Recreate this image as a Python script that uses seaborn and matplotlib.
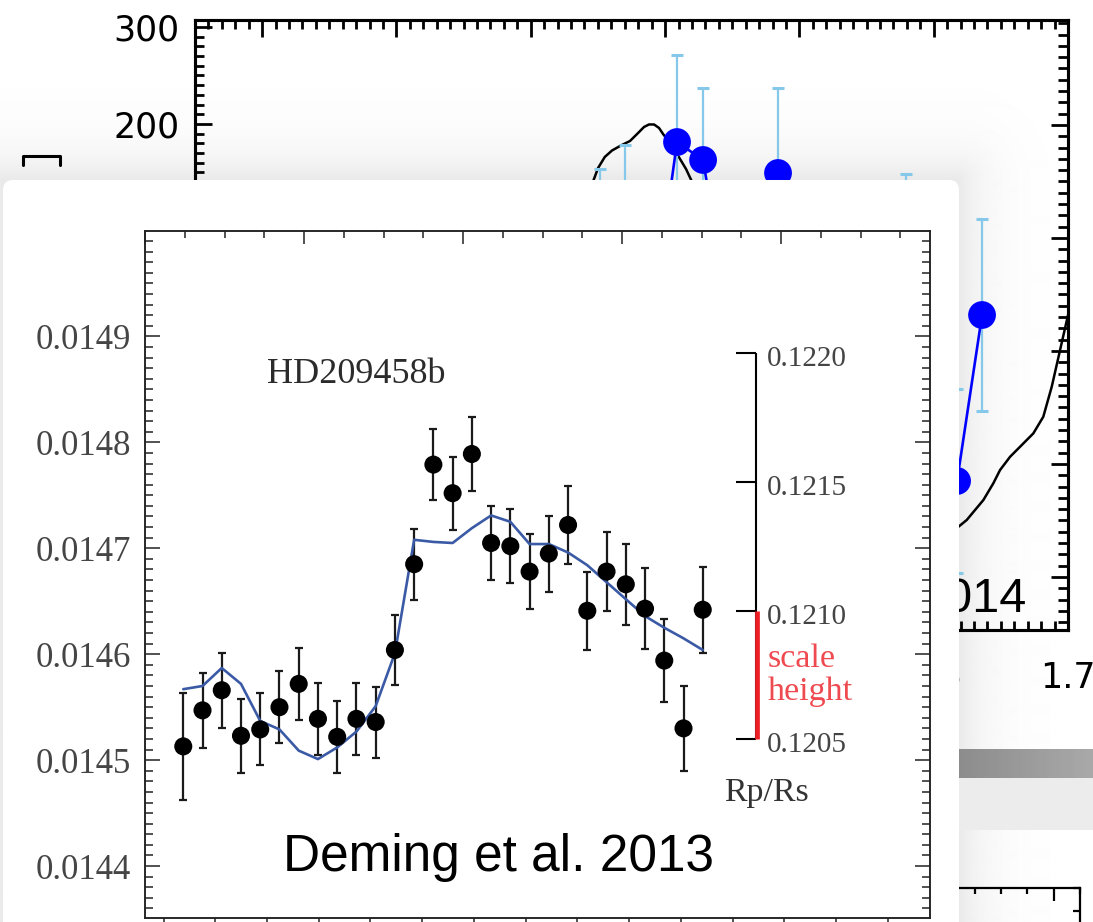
import numpy as np
import matplotlib
matplotlib.use("Agg")
import matplotlib.pyplot as plt
import seaborn as sns
from matplotlib.ticker import MultipleLocator, FixedLocator, FormatStrFormatter, FuncFormatter
from matplotlib.patches import FancyBboxPatch, Rectangle
from matplotlib import transforms

# ---------------- HD209458b WFC3 transit spectrum (Deming et al. 2013) ----------------
wavelength_um = [1.1190, 1.1376, 1.1562, 1.1748, 1.1934, 1.2120, 1.2306, 1.2492,
                 1.2678, 1.2864, 1.3050, 1.3236, 1.3422, 1.3608, 1.3794, 1.3980,
                 1.4166, 1.4352, 1.4538, 1.4724, 1.4910, 1.5096, 1.5282, 1.5468,
                 1.5654, 1.5840, 1.6026, 1.6212]
transit_depth = [0.014513, 0.014547, 0.014566, 0.014523, 0.014529, 0.014550, 0.014572,
                 0.014539, 0.014522, 0.014539, 0.014536, 0.014604, 0.014685, 0.014779,
                 0.014752, 0.014789, 0.014705, 0.014702, 0.014678, 0.014695, 0.014722,
                 0.014641, 0.014678, 0.014666, 0.014643, 0.014594, 0.014530, 0.014642]
depth_error_ppm = [50.7, 35.6, 35.2, 34.7, 34.0, 33.7, 33.7, 33.7, 33.8, 33.8, 33.5,
                   33.3, 33.5, 33.8, 34.3, 34.5, 34.5, 34.9, 35.2, 35.9, 36.4, 36.6,
                   37.0, 38.0, 38.4, 39.2, 39.9, 40.4]
model_depth = [0.014567, 0.014570, 0.014587, 0.014572, 0.014537, 0.014529, 0.014509,
               0.014501, 0.014512, 0.014527, 0.014551, 0.014601, 0.014708, 0.014706,
               0.014705, 0.014719, 0.014731, 0.014725, 0.014704, 0.014704, 0.014696,
               0.014684, 0.014668, 0.014652, 0.014636, 0.014625, 0.014615, 0.014604]
depth_ticks = [0.0144, 0.0145, 0.0146, 0.0147, 0.0148, 0.0149]
rprs_ticks = [0.1220, 0.1215, 0.1210, 0.1205]
scale_height_rprs = [0.1205, 0.1210]

# ---------------- background spectrum panel ----------------
bg_wave = [1.3516, 1.3702, 1.3895, 1.4089, 1.4283, 1.4469, 1.4841, 1.5794, 1.6174, 1.6360]
bg_value = [61.9, 86.6, -11.3, 181.4, 162.9, 8.2, 149.5, 56.7, -168.0, 3.1]
bg_error = [92.0, 92.0, 90.0, 89.7, 74.2, 90.0, 87.6, 92.0, 95.0, 98.5]
bg_model_wave = [1.3218, 1.3329, 1.3461, 1.3501, 1.3551, 1.3605, 1.3679, 1.3739, 1.3799,
                 1.3843, 1.3880, 1.3918, 1.3955, 1.3985, 1.4037, 1.4101, 1.4156, 1.4203,
                 1.4298, 1.4409, 1.5005, 1.5601, 1.5973, 1.6080, 1.6184, 1.6246, 1.6370,
                 1.6444, 1.6494, 1.6569, 1.6643, 1.6742, 1.6816, 1.6879, 1.6941, 1.7003]
bg_model_value = [-12.4, 70.1, 139.7, 154.6, 166.0, 172.7, 178.4, 182.5, 190.7, 196.9,
                  199.5, 199.5, 195.9, 189.7, 180.4, 166.3, 153.6, 139.7, 90.7, 18.6,
                  -105.0, -208.0, -229.0, -225.0, -215.2, -208.2, -187.6, -170.4,
                  -156.7, -143.0, -132.7, -118.9, -101.8, -70.8, -33.0, 4.8]
bg_left_ticks = [300, 200, 100, 0, -100, -200, -300]
bg_left_labelled = [300, 200]
bg_x_labelled = [1.6, 1.7]

W, H, DPI = 1093, 922, 100
sns.set_theme(style="white")
plt.rcParams['font.family'] = ['Liberation Serif', 'DejaVu Sans']
fig = plt.figure(figsize=(W / DPI, H / DPI), dpi=DPI)
fig.patch.set_facecolor('white')


def box(x0, y0, x1, y1):
    """Pixel box (top-left origin) -> figure fraction rect."""
    return [x0 / W, 1 - y1 / H, (x1 - x0) / W, (y1 - y0) / H]


# ---- page layer: soft shadow around the white card, scanned strips ----
ax_bg = fig.add_axes([0, 0, 1, 1], zorder=-3)
ax_bg.set_xlim(0, W)
ax_bg.set_ylim(H, 0)
ax_bg.axis('off')
card_l, card_t, card_r = 3, 180, 959
yy, xx = np.mgrid[0:H, 0:W] + 0.5
dx = np.maximum(np.maximum(card_l - xx, xx - card_r), 0)
dy = np.maximum(card_t - yy, 0)
dist = np.hypot(dx, dy)
shade = 1 - 0.085 * np.exp(-dist / 30.0)
ax_bg.imshow(shade, cmap='gray', vmin=0, vmax=1, extent=(0, W, H, 0),
             aspect='auto', interpolation='bilinear')
ax_bg.imshow(np.linspace(0.55, 0.66, 40)[None, :], cmap='gray', vmin=0, vmax=1,
             extent=(958, W, 778, 750), aspect='auto')
ax_bg.add_patch(Rectangle((958, 778), W - 958, 52, color='#ececec', lw=0))
ax_bg.plot([23, 23, 60, 60], [165, 156, 156, 165], color='black', lw=2.2)

# ---- background spectrum panel ----
ax_top = fig.add_axes(box(195, 20, 1068, 630), zorder=-2)
ax_top.set_facecolor('none')
sns.lineplot(x=bg_model_wave, y=bg_model_value, ax=ax_top, color='black', lw=1.8)
ax_top.errorbar(bg_wave, bg_value, yerr=bg_error, fmt='none', ecolor='#86c8ea',
                elinewidth=1.6, capsize=4, capthick=2.2, zorder=2)
sns.lineplot(x=bg_wave, y=bg_value, ax=ax_top, color='#0000ff', lw=1.9, zorder=3)
sns.scatterplot(x=bg_wave, y=bg_value, ax=ax_top, s=20 ** 2, color='#0000ff',
                edgecolor='none', zorder=4)
ax_top.set_xlim(1.05, 1.70)
ax_top.set_ylim(-321.6, 307.2)
ax_top.xaxis.set_major_locator(MultipleLocator(0.1))
ax_top.xaxis.set_minor_locator(MultipleLocator(0.01))
ax_top.xaxis.set_major_formatter(FuncFormatter(
    lambda v, pos: f"{v:.1f}" if any(abs(v - t) < 1e-6 for t in bg_x_labelled) else ""))
ax_top.yaxis.set_major_locator(FixedLocator(bg_left_ticks))
ax_top.yaxis.set_minor_locator(MultipleLocator(10))
ax_top.yaxis.set_major_formatter(FuncFormatter(
    lambda v, pos: f"{v:.0f}" if any(abs(v - t) < 1e-6 for t in bg_left_labelled) else ""))
ax_top.tick_params(axis='both', which='both', direction='in', top=True, bottom=True,
                   left=True, right=False, colors='black', width=2)
ax_top.tick_params(axis='both', which='major', length=12)
ax_top.tick_params(axis='both', which='minor', length=6.5)
ax_top.tick_params(axis='x', labelsize=25, pad=22)
ax_top.tick_params(axis='y', labelsize=25, pad=11)
for lab in ax_top.get_xticklabels() + ax_top.get_yticklabels():
    lab.set_family('DejaVu Sans')
for sp in ax_top.spines.values():
    sp.set_linewidth(2.2)
    sp.set_color('black')
ax_top.set_xlabel('')
ax_top.set_ylabel('')
ax_top.text(1.6695, -303.1, '2014', ha='right', va='baseline', fontsize=35,
            family='Liberation Sans', color='black')

ax_r = ax_top.twinx()
ax_r.set_zorder(-2)
ax_r.set_ylim(-0.469, 4.929)
ax_r.yaxis.set_major_locator(MultipleLocator(1))
ax_r.yaxis.set_minor_locator(MultipleLocator(0.1))
ax_r.tick_params(axis='y', which='both', direction='in', right=True, left=False,
                 labelright=False, width=2, colors='black')
ax_r.tick_params(axis='y', which='major', length=12)
ax_r.tick_params(axis='y', which='minor', length=7)
for sp in ax_r.spines.values():
    sp.set_linewidth(2.2)
    sp.set_color('black')

# ---- corner of a lower panel ----
ax_c = fig.add_axes(box(820, 888, 1080, 1000), zorder=-2)
ax_c.set_facecolor('none')
ax_c.set_xlim(1.1, 11.0)
ax_c.set_ylim(4.87, 0)
ax_c.xaxis.set_major_locator(MultipleLocator(5))
ax_c.xaxis.set_minor_locator(MultipleLocator(1))
ax_c.yaxis.set_major_locator(MultipleLocator(1))
ax_c.tick_params(axis='x', which='both', direction='in', top=True, bottom=False,
                 labelbottom=False, width=1.6, colors='black')
ax_c.tick_params(axis='x', which='major', length=9)
ax_c.tick_params(axis='x', which='minor', length=4)
ax_c.tick_params(axis='y', direction='in', right=True, left=False, labelleft=False,
                 length=5, width=1.6, colors='black')
for side, sp in ax_c.spines.items():
    sp.set_linewidth(1.6)
    sp.set_color('black')
    sp.set_visible(side in ('top', 'right'))

# ---- white card carrying the Deming et al. panel ----
ax_card = fig.add_axes([0, 0, 1, 1], zorder=-1)
ax_card.set_xlim(0, W)
ax_card.set_ylim(H, 0)
ax_card.axis('off')
ax_card.add_patch(FancyBboxPatch((card_l, card_t), card_r - card_l, 900,
                                 boxstyle='round,pad=0,rounding_size=10',
                                 fc='white', ec='none'))

# ---- main panel ----
ax = fig.add_axes(box(145, 231, 930, 918), zorder=0)
ax.set_facecolor('white')
err = [e * 1e-6 for e in depth_error_ppm]
ax.errorbar(wavelength_um, transit_depth, yerr=err, fmt='none', ecolor='#1a1a1a',
            elinewidth=1.6, capsize=2.6, capthick=1.6, zorder=2)
sns.lineplot(x=wavelength_um, y=model_depth, ax=ax, color='#3b5aa6', lw=1.9, zorder=3)
sns.scatterplot(x=wavelength_um, y=transit_depth, ax=ax, s=13 ** 2, color='black',
                edgecolor='none', zorder=4)
ax.set_xlim(1.0820, 1.8409)
ax.set_ylim(0.014351, 0.0149995)
ax.set_xlabel('')
ax.set_ylabel('')
ax.yaxis.set_major_locator(FixedLocator(depth_ticks))
ax.yaxis.set_minor_locator(MultipleLocator(0.00001))
ax.yaxis.set_major_formatter(FormatStrFormatter('%.4f'))
ax.xaxis.set_major_locator(MultipleLocator(0.05))
ax.tick_params(axis='y', which='both', direction='in', left=True, right=True,
               color='#222222', width=1.1)
ax.tick_params(axis='y', which='major', length=10.8, labelsize=25, labelcolor='#454545',
               pad=10)
ax.tick_params(axis='y', which='minor', length=6)
ax.tick_params(axis='x', which='both', direction='out', bottom=True, top=False,
               labelbottom=False, length=4, width=1.1, color='#222222')
for sp in ax.spines.values():
    sp.set_linewidth(1.1)
    sp.set_color('#222222')

ax_t = ax.twiny()
ax_t.set_zorder(0.5)
ax_t.set_xlim(0, 4.937)
ax_t.xaxis.set_major_locator(MultipleLocator(1))
ax_t.xaxis.set_minor_locator(MultipleLocator(0.25))
ax_t.tick_params(axis='x', which='both', direction='in', top=True, bottom=False,
                 labeltop=False, labelbottom=False, width=1.1, color='#222222')
ax_t.tick_params(axis='x', which='major', length=9.4)
ax_t.tick_params(axis='x', which='minor', length=5)
for sp in ax_t.spines.values():
    sp.set_linewidth(1.1)
    sp.set_color('#222222')

# Rp/Rs scale: depth = (Rp/Rs)^2
rprs_x, rprs_tick_x0, rprs_label_x = 1.6727, 1.6534, 1.6833
rprs_depth = [r ** 2 for r in rprs_ticks]
ax.plot([rprs_x, rprs_x], [min(rprs_depth), max(rprs_depth)], color='black', lw=1.5,
        zorder=5, solid_capstyle='butt')
label_tf = transforms.offset_copy(ax.transData, fig=fig, x=0, y=-13, units='dots')
for r, d in zip(rprs_ticks, rprs_depth):
    ax.plot([rprs_tick_x0, rprs_x], [d, d], color='black', lw=1.5, zorder=5,
            solid_capstyle='butt')
    ax.text(rprs_label_x, d, f"{r:.4f}", transform=label_tf, ha='left', va='baseline',
            fontsize=21, color='#444444', family='Liberation Serif')
ax.plot([rprs_x + 0.0009, rprs_x + 0.0009],
        [scale_height_rprs[0] ** 2, scale_height_rprs[1] ** 2],
        color='#ec1f26', lw=3.4, zorder=6, solid_capstyle='butt')
ax.text(1.6840, 0.0145569, 'scale\nheight', ha='left', va='baseline', ma='left',
        fontsize=24.5, linespacing=1.1, color='#ee4a50', family='Liberation Serif')
ax.text(1.6417, 0.0144616, 'Rp/Rs', ha='left', va='baseline', fontsize=24.5,
        color='#333333', family='Liberation Serif')

ax.text(1.1996, 0.0148563, 'HD209458b', ha='left', va='baseline', fontsize=26,
        color='#2b2b2b', family='Liberation Serif')
ax.text(1.2153, 0.0143955, 'Deming et al. 2013', ha='left', va='baseline', fontsize=37,
        color='black', family='Liberation Sans')

fig.savefig('out.png', dpi=DPI)
